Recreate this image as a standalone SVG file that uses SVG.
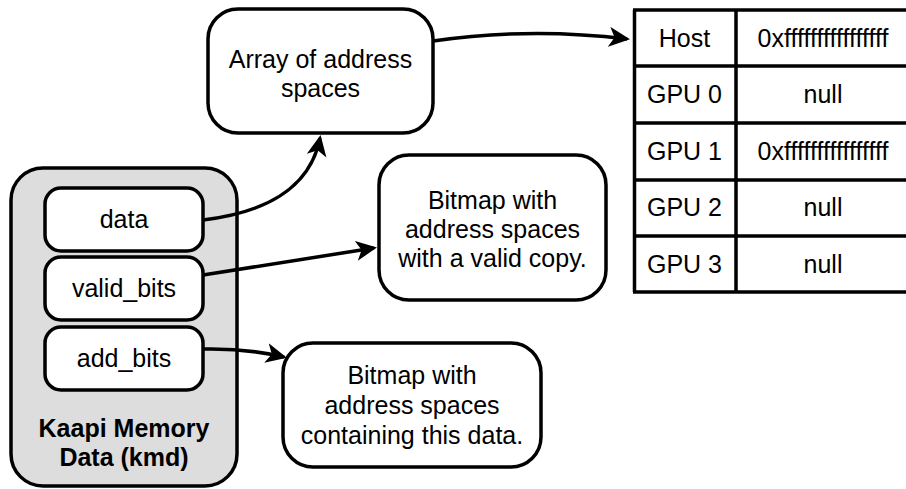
<svg xmlns="http://www.w3.org/2000/svg" width="906" height="489" viewBox="0 0 906 489">
<defs>
<style>
text{font-family:"Liberation Sans",Arial,sans-serif;font-size:25px;fill:#000;text-anchor:middle}
.b{font-weight:bold}
.box{fill:#fff;stroke:#000;stroke-width:3.5}
.kmd{fill:#dddddd;stroke:#000;stroke-width:3.5}
.edge{fill:none;stroke:#000;stroke-width:3.5;marker-end:url(#arr)}
.grid{stroke:#000;stroke-width:3.5;fill:none}
</style>
<marker id="arr" markerUnits="userSpaceOnUse" markerWidth="24" markerHeight="22" refX="18" refY="10" orient="auto" viewBox="0 0 24 22">
<path d="M0,0 L21,10 L0,20 L5.5,10 Z" fill="#000"/>
</marker>
</defs>
<g id="kmd">
<rect class="kmd" x="11" y="168" width="226" height="318" rx="32"/>
<text class="b" x="124" y="437">Kaapi Memory</text>
<text class="b" x="124" y="466">Data (kmd)</text>
</g>
<g id="data">
<rect class="box" x="45" y="188" width="158" height="63" rx="16"/>
<text x="124" y="228">data</text>
</g>
<g id="valid_bits">
<rect class="box" x="45" y="257" width="158" height="63" rx="16"/>
<text x="124" y="297">valid_bits</text>
</g>
<g id="add_bits">
<rect class="box" x="45" y="327" width="158" height="63" rx="16"/>
<text x="124" y="367">add_bits</text>
</g>
<g id="array">
<rect class="box" x="208" y="9" width="225" height="124" rx="30"/>
<text x="320.5" y="68">Array of address</text>
<text x="320.5" y="97">spaces</text>
</g>
<g id="bitmap_valid">
<rect class="box" x="379" y="155" width="227" height="145" rx="30"/>
<text x="492.5" y="209">Bitmap with</text>
<text x="492.5" y="238">address spaces</text>
<text x="492.5" y="267">with a valid copy.</text>
</g>
<g id="bitmap_add">
<rect class="box" x="283" y="343" width="258" height="124" rx="30"/>
<text x="412" y="384">Bitmap with</text>
<text x="412" y="414">address spaces</text>
<text x="412" y="444">containing this data.</text>
</g>
<g id="table">
<rect x="633" y="10" width="280" height="282" fill="#fff"/>
<path class="grid" d="M633,10 H913 M633,66 H913 M633,123 H913 M633,180 H913 M633,236 H913 M633,292 H913 M634.5,10 V292 M736,10 V292"/>
<text x="684.5" y="47">Host</text>
<text x="823" y="47">0xffffffffffffffff</text>
<text x="684.5" y="103">GPU 0</text>
<text x="823" y="103">null</text>
<text x="684.5" y="160">GPU 1</text>
<text x="823" y="160">0xffffffffffffffff</text>
<text x="684.5" y="216">GPU 2</text>
<text x="823" y="216">null</text>
<text x="684.5" y="273">GPU 3</text>
<text x="823" y="273">null</text>
</g>
<g id="connectors">
<path class="edge" d="M203,220 C262,213 310,190 320,138"/>
<path class="edge" d="M203,275 L374,248"/>
<path class="edge" d="M203,349 Q245,348 284,357"/>
<path class="edge" d="M433,41 Q530,27 627,39"/>
</g>
</svg>
